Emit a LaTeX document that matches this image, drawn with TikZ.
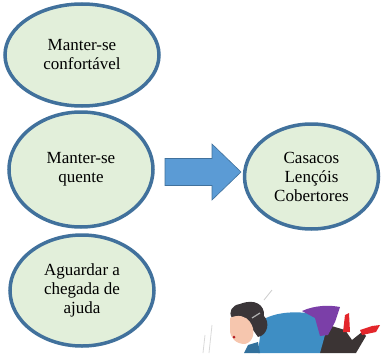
\documentclass[tikz,border=0pt]{standalone}
\usepackage{fontspec}
\setmainfont{Liberation Serif}
\usetikzlibrary{shapes.geometric}

\definecolor{bordablue}{HTML}{41719C}
\definecolor{fundogreen}{HTML}{E2EFDA}
\definecolor{setablue}{HTML}{5B9BD5}
\definecolor{cabelo}{HTML}{3A3538}
\definecolor{pele}{HTML}{F6C6AE}
\definecolor{casaco}{HTML}{3E8EC4}
\definecolor{saia}{HTML}{7B3FA8}
\definecolor{calca}{HTML}{3B3434}
\definecolor{sapato}{HTML}{E3262B}

\tikzset{
  balao/.style={ellipse, draw=bordablue, line width=3.5pt, fill=fundogreen,
    inner sep=0pt, align=center, font=\fontsize{17}{19}\selectfont},
}

\begin{document}
\begin{tikzpicture}[x=1pt,y=-1pt]
				%%%%% START %%%%%
				\useasboundingbox (0,0) rectangle (382,353);

				\node[balao, minimum width=154pt, minimum height=102pt] (conforto) at (82,55) {Manter-se\\confortável};
				\node[balao, minimum width=144pt, minimum height=115pt] (quente) at (81,169.5) {Manter-se\\quente};
				\node[balao, minimum width=144pt, minimum height=111pt] (ajuda) at (82,290.5) {Aguardar a\\chegada de\\ajuda};
				\node[balao, minimum width=134pt, minimum height=105pt] (agasalhos) at (311.5,176.5) {Casacos\\Lençóis\\Cobertores};

				% seta em bloco
				\def\xa{165}
				\def\xb{212}
				\def\xc{241}
				\def\yc{172}
				\def\meio{13.5}
				\def\cab{28}
				\draw[fill=setablue, draw=bordablue, line width=0.6pt]
				  (\xa,\yc-\meio) -- (\xb,\yc-\meio) -- (\xb,\yc-\cab) -- (\xc,\yc)
				  -- (\xb,\yc+\cab) -- (\xb,\yc+\meio) -- (\xa,\yc+\meio) -- cycle;

				% senhora a cair
				\draw[gray!40, line width=0.8pt] (264,300) -- (272,290);
				\draw[gray!30, line width=0.8pt] (209,353) -- (212,325);
				\draw[gray!30, line width=0.8pt] (203,353) -- (205,335);
				\fill[calca] (318,322) -- (345,330) -- (352,340) -- (362,332) -- (366,336) -- (356,353) -- (320,353) -- cycle;
				\fill[sapato] (343,332) -- (345,315) -- (349,313) -- (350,332) -- cycle;
				\fill[sapato] (360,330) -- (372,326) -- (380,325) -- (376,332) -- (362,335) -- cycle;
				\fill[casaco] (262,320) .. controls (280,310) and (300,312) .. (318,314)
				  -- (325,335) -- (320,353) -- (258,353) -- cycle;
				\fill[saia] (302,311) .. controls (315,305) and (330,305) .. (340,307)
				  -- (335,322) -- (328,335) -- (320,336) -- (315,318) -- cycle;
				\fill[casaco!80!black] (248,345) -- (258,342) -- (260,353) -- (244,353) -- cycle;
				\fill[cabelo] (240,304) .. controls (255,298) and (265,305) .. (264,316)
				  .. controls (270,322) and (268,335) .. (258,337) -- (246,320) -- (232,318)
				  .. controls (228,312) and (232,305) .. (240,304);
				\fill[pele] (230,318) .. controls (238,314) and (246,316) .. (250,322)
				  .. controls (256,330) and (254,342) .. (245,344)
				  .. controls (236,344) and (230,338) .. (230,330) -- cycle;
				\fill[sapato!80!black] (234,337) circle (1.5);
				\draw[gray!60, line width=1.2pt] (252,318) -- (260,313);
				%%%%% START %%%%%
			\end{tikzpicture}
\end{document}
